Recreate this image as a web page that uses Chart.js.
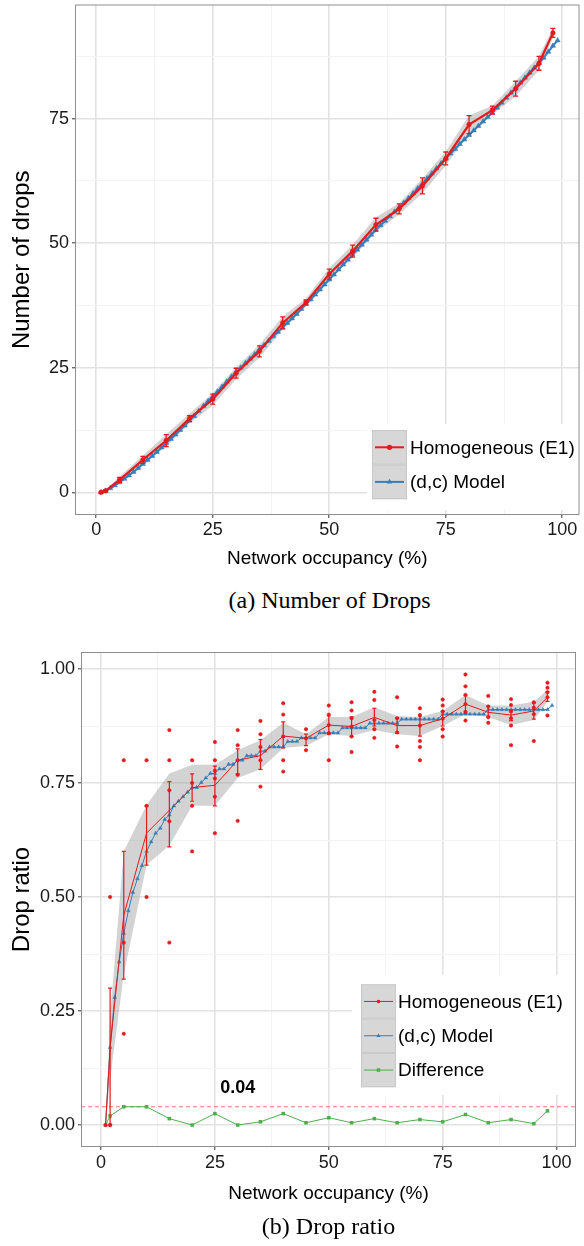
<!DOCTYPE html>
<html>
<head>
<meta charset="utf-8">
<script src="https://cdn.jsdelivr.net/npm/chart.js@4.4.1/dist/chart.umd.min.js"></script>
<style>
  html, body { margin: 0; padding: 0; background: #fff; }
  #page { position: relative; width: 584px; height: 1246px; overflow: hidden; }
  canvas { position: absolute; left: 0; }
  .caption { position: absolute; text-align: center; font-family: "Liberation Serif", "Times New Roman", serif; font-size: 24px; line-height: 28px; color: #000; }
</style>
</head>
<body>
<div id="page">
  <canvas id="drops" width="584" height="575" style="top:0px"></canvas>
  <div class="caption" style="left:75px;width:509px;top:586px">(a) Number of Drops</div>
  <canvas id="ratio" width="584" height="580" style="top:640px"></canvas>
  <div class="caption" style="left:81px;width:495px;top:1212px">(b) Drop ratio</div>
</div>
<script>
// ---- data: experiment (Homogeneous E1), measured at these occupancies ----
const OCC_E1 = [1, 2, 5, 10, 15, 20, 25, 30, 35, 40, 45, 50, 55, 60, 65, 70, 75, 80, 85, 90, 95, 98];

// (a) number of drops
const DROPS_E1 = [0, 0.3, 2.5, 6.5, 10.4, 14.8, 18.7, 23.9, 28.3, 34.0, 38.1, 43.8, 48.4, 53.7, 56.9, 61.5, 67.0, 73.8, 76.7, 81.0, 86.1, 92.2];
const DROPS_ERR_LOW = [-0.1, 0.1, 2.0, 5.8, 9.2, 14.2, 17.7, 22.9, 27.2, 32.8, 37.6, 42.8, 47.2, 52.4, 55.9, 59.9, 65.7, 72.0, 75.9, 79.5, 84.7, 91.3];
const DROPS_ERR_HIGH = [0.1, 0.5, 3.0, 7.2, 11.6, 15.4, 19.7, 24.9, 29.4, 35.2, 38.6, 44.8, 49.6, 55.0, 57.9, 63.1, 68.3, 75.6, 77.5, 82.5, 87.5, 93.1];
const DROPS_RIB_LOW = [-0.3, 0, 1.8, 5.6, 9.2, 13.8, 17.5, 22.7, 27.0, 32.7, 37.3, 42.6, 47.1, 52.2, 55.8, 60.0, 65.6, 72.0, 75.8, 79.5, 84.7, 91.2];
const DROPS_RIB_HIGH = [0.3, 0.6, 3.2, 7.4, 11.6, 15.8, 19.9, 25.1, 29.6, 35.3, 38.9, 45.0, 49.7, 55.2, 58.0, 63.0, 68.4, 75.6, 77.6, 82.5, 87.5, 93.2];

// (d,c) model, occupancy 1..99
const OCC_MODEL = Array.from({ length: 99 }, (_, i) => i + 1);
const DROPS_MODEL = [
  0, 0.3, 0.8, 1.4, 2.0, 2.7, 3.4, 4.1, 4.9, 5.7,
  6.5, 7.3, 8.1, 9.0, 9.9, 10.7, 11.6, 12.5, 13.4, 14.4,
  15.3, 16.3, 17.3, 18.3, 19.3, 20.2, 21.2, 22.2, 23.2, 24.1,
  25.0, 25.9, 26.8, 27.7, 28.6, 29.5, 30.4, 31.3, 32.2, 33.1,
  34.0, 34.9, 35.8, 36.8, 37.8, 38.7, 39.7, 40.7, 41.7, 42.7,
  43.7, 44.7, 45.7, 46.7, 47.7, 48.7, 49.7, 50.7, 51.7, 52.7,
  53.6, 54.5, 55.4, 56.3, 57.2, 58.1, 59.0, 60.0, 61.0, 62.0,
  63.0, 64.0, 65.0, 66.0, 67.0, 68.0, 68.9, 69.9, 70.8, 71.7,
  72.6, 73.5, 74.4, 75.3, 76.2, 77.2, 78.2, 79.2, 80.2, 81.2,
  82.2, 83.2, 84.2, 85.2, 86.1, 87.2, 88.4, 89.6, 90.7
];

// (b) drop ratio
const RATIO_E1 = [0, 0.17, 0.46, 0.64, 0.69, 0.74, 0.745, 0.80, 0.81, 0.853, 0.848, 0.877, 0.874, 0.894, 0.876, 0.876, 0.891, 0.923, 0.905, 0.899, 0.908, 0.938];
const RATIO_ERR_LOW = [0, 0, 0.32, 0.57, 0.61, 0.71, 0.70, 0.77, 0.78, 0.827, 0.832, 0.857, 0.852, 0.875, 0.859, 0.853, 0.875, 0.903, 0.897, 0.887, 0.890, 0.929];
const RATIO_ERR_HIGH = [0, 0.30, 0.60, 0.70, 0.753, 0.77, 0.787, 0.825, 0.845, 0.884, 0.857, 0.897, 0.895, 0.914, 0.893, 0.897, 0.907, 0.943, 0.918, 0.910, 0.925, 0.950];
const RATIO_RIB_LOW = [0, 0.10, 0.33, 0.57, 0.613, 0.70, 0.70, 0.761, 0.78, 0.827, 0.831, 0.857, 0.853, 0.866, 0.857, 0.853, 0.875, 0.901, 0.895, 0.877, 0.888, 0.928];
const RATIO_RIB_HIGH = [0, 0.24, 0.60, 0.702, 0.771, 0.79, 0.79, 0.822, 0.844, 0.882, 0.857, 0.895, 0.895, 0.916, 0.897, 0.895, 0.908, 0.943, 0.92, 0.92, 0.928, 0.954];
// single runs at each occupancy
const RATIO_RUNS = [
  [0],
  [0.5, 0, 0],
  [0.80, 0.40, 0.20],
  [0.80, 0.70, 0.50],
  [0.866, 0.80, 0.734, 0.666, 0.40],
  [0.80, 0.75, 0.70, 0.60],
  [0.84, 0.80, 0.777, 0.76, 0.72, 0.64],
  [0.866, 0.833, 0.80, 0.768, 0.667],
  [0.886, 0.857, 0.829, 0.80, 0.742],
  [0.925, 0.90, 0.852, 0.80, 0.775],
  [0.868, 0.848, 0.822],
  [0.92, 0.90, 0.877, 0.859, 0.80],
  [0.927, 0.909, 0.892, 0.874, 0.852, 0.818],
  [0.95, 0.932, 0.888, 0.868, 0.849],
  [0.938, 0.892, 0.861, 0.83],
  [0.914, 0.899, 0.876, 0.842, 0.829, 0.80],
  [0.933, 0.92, 0.907, 0.891, 0.868, 0.852],
  [0.988, 0.962, 0.943, 0.923, 0.906, 0.887],
  [0.941, 0.918, 0.894, 0.882],
  [0.934, 0.921, 0.907, 0.892, 0.876, 0.833],
  [0.927, 0.915, 0.901, 0.842],
  [0.97, 0.959, 0.949, 0.938, 0.898]
];
const RATIO_MODEL = [
  0, 0.17, 0.28, 0.358, 0.42, 0.47, 0.51, 0.54, 0.569, 0.60,
  0.621, 0.64, 0.651, 0.67, 0.68, 0.70, 0.71, 0.72, 0.73, 0.74,
  0.74, 0.751, 0.761, 0.771, 0.771, 0.781, 0.781, 0.791, 0.791, 0.80,
  0.80, 0.81, 0.81, 0.81, 0.82, 0.82, 0.829, 0.829, 0.829, 0.829,
  0.841, 0.841, 0.841, 0.849, 0.849, 0.849, 0.849, 0.86, 0.86, 0.86,
  0.86, 0.86, 0.871, 0.871, 0.871, 0.871, 0.871, 0.871, 0.881, 0.881,
  0.881, 0.881, 0.881, 0.881, 0.881, 0.89, 0.89, 0.89, 0.89, 0.89,
  0.89, 0.89, 0.89, 0.89, 0.901, 0.901, 0.901, 0.901, 0.901, 0.901,
  0.901, 0.901, 0.901, 0.901, 0.911, 0.911, 0.911, 0.911, 0.911, 0.911,
  0.911, 0.911, 0.911, 0.911, 0.911, 0.911, 0.911, 0.911, 0.92
];
const RATIO_DIFF = [0, 0.02, 0.04, 0.04, 0.014, 0, 0.025, 0, 0.007, 0.025, 0.005, 0.016, 0.005, 0.014, 0.005, 0.012, 0.007, 0.023, 0.005, 0.012, 0.003, 0.031];
const THRESHOLD = 0.04;

// ---- axis ticks (major + minor grid) ----
const OCC_TICKS = [0, 12.5, 25, 37.5, 50, 62.5, 75, 87.5, 100];
const DROPS_TICKS = [0, 12.5, 25, 37.5, 50, 62.5, 75, 87.5];
const RATIO_TICKS = [0, 0.125, 0.25, 0.375, 0.5, 0.625, 0.75, 0.875, 1];

const FONT = '"Liberation Sans", Arial, Helvetica, sans-serif';
const RED = '#E41A1C', BLUE = '#377EB8', GREEN = '#4DAF4A';
const RIBBON = 'rgba(150,150,150,0.42)';

Chart.defaults.font.family = FONT;
Chart.defaults.color = '#1a1a1a';

function pts(xs, ys) { return xs.map((x, i) => ({ x: x, y: ys[i] })); }

function isMajor(v, step) { return Math.abs(v / step - Math.round(v / step)) < 1e-9; }

function gridOpts(step) {
  return {
    color: c => isMajor(c.tick.value, step) ? '#E2E2E2' : '#F3F3F3',
    lineWidth: c => isMajor(c.tick.value, step) ? 1.6 : 1,
    tickColor: c => isMajor(c.tick.value, step) ? '#333' : 'rgba(0,0,0,0)',
    tickWidth: 1,
    tickLength: 3
  };
}

// no extra room for edge labels: the panel is placed by layout padding
function noEdgePadding(s) {
  s.paddingTop = 0; s.paddingBottom = 0; s.paddingLeft = 0; s.paddingRight = 0;
}

// error bars, threshold, label, legend and panel border
const panelPlugin = {
  id: 'panel',
  beforeDatasetsDraw(chart, args, o) {
    if (o.threshold == null) return;
    const ctx = chart.ctx, a = chart.chartArea;
    const py = chart.scales.y.getPixelForValue(o.threshold);
    ctx.save();
    ctx.strokeStyle = 'rgba(228,26,28,0.6)';
    ctx.lineWidth = 1;
    ctx.setLineDash([4, 3]);
    ctx.beginPath(); ctx.moveTo(a.left, py); ctx.lineTo(a.right, py); ctx.stroke();
    ctx.restore();
  },
  afterDatasetsDraw(chart, args, o) {
    const ctx = chart.ctx, a = chart.chartArea;
    const xs = chart.scales.x, ys = chart.scales.y;
    ctx.save();
    ctx.beginPath(); ctx.rect(a.left, a.top, a.right - a.left, a.bottom - a.top); ctx.clip();
    if (o.err) {
      ctx.strokeStyle = RED;
      ctx.lineWidth = o.err.width;
      o.err.x.forEach((x, i) => {
        const px = xs.getPixelForValue(x);
        const lo = ys.getPixelForValue(o.err.low[i]);
        const hi = ys.getPixelForValue(o.err.high[i]);
        if (Math.abs(lo - hi) < 1) return;
        const c = o.err.cap;
        ctx.beginPath();
        ctx.moveTo(px, lo); ctx.lineTo(px, hi);
        ctx.moveTo(px - c, lo); ctx.lineTo(px + c, lo);
        ctx.moveTo(px - c, hi); ctx.lineTo(px + c, hi);
        ctx.stroke();
      });
    }
    if (o.note) {
      ctx.fillStyle = '#000';
      ctx.font = 'bold 18px ' + FONT;
      ctx.textAlign = 'center';
      ctx.textBaseline = 'middle';
      ctx.fillText(o.note.text, xs.getPixelForValue(o.note.x), ys.getPixelForValue(o.note.y));
    }
    ctx.restore();

    const lg = o.legend;
    if (lg) {
      ctx.save();
      ctx.fillStyle = '#fff';
      ctx.fillRect(lg.left, lg.top, lg.width, lg.height);
      lg.items.forEach((it, i) => {
        const ky = lg.keyTop + i * lg.keySize;
        const cy = ky + lg.keySize / 2;
        ctx.fillStyle = '#D7D7D7';
        ctx.fillRect(lg.keyLeft, ky, lg.keyWidth, lg.keySize);
        ctx.strokeStyle = '#C8C8C8';
        ctx.lineWidth = 1;
        ctx.strokeRect(lg.keyLeft + 0.5, ky + 0.5, lg.keyWidth - 1, lg.keySize - 1);
        ctx.strokeStyle = it.color;
        ctx.lineWidth = it.lineWidth;
        ctx.beginPath();
        ctx.moveTo(lg.keyLeft + 3, cy); ctx.lineTo(lg.keyLeft + lg.keyWidth - 3, cy);
        ctx.stroke();
        ctx.fillStyle = it.color;
        Chart.helpers.drawPoint(ctx, { pointStyle: it.pointStyle, radius: it.radius, borderWidth: 0, rotation: 0 }, lg.keyLeft + lg.keyWidth / 2, cy);
        ctx.fillStyle = '#000';
        ctx.font = lg.font;
        ctx.textAlign = 'left';
        ctx.textBaseline = 'middle';
        ctx.fillText(it.label, lg.textLeft, cy + 1);
      });
      ctx.restore();
    }
  },
  afterDraw(chart) {
    const ctx = chart.ctx, a = chart.chartArea;
    ctx.save();
    ctx.strokeStyle = '#8f8f8f';
    ctx.lineWidth = 1;
    ctx.strokeRect(a.left + 0.5, a.top + 0.5, a.right - a.left - 1, a.bottom - a.top - 1);
    ctx.restore();
  }
};

function axes(cfg) {
  return {
    x: {
      type: 'linear', min: cfg.xMin, max: cfg.xMax,
      afterBuildTicks: s => { s.ticks = OCC_TICKS.map(v => ({ value: v })); },
      afterFit: s => { s.height = cfg.xHeight; noEdgePadding(s); },
      grid: gridOpts(25),
      border: { display: false },
      ticks: {
        autoSkip: false, maxRotation: 0, padding: cfg.xTickPad,
        font: { size: 18 }, color: '#1a1a1a',
        callback: v => isMajor(v, 25) ? String(v) : ''
      },
      title: { display: true, text: 'Network occupancy (%)', font: { size: 19 }, color: '#000', padding: { top: 0, bottom: cfg.xTitlePad } }
    },
    y: {
      type: 'linear', min: cfg.yMin, max: cfg.yMax,
      afterBuildTicks: s => { s.ticks = cfg.yTicks.map(v => ({ value: v })); },
      afterFit: s => { s.width = cfg.yWidth; noEdgePadding(s); },
      grid: gridOpts(cfg.yStep),
      border: { display: false },
      ticks: {
        autoSkip: false, padding: 3,
        font: { size: 18 }, color: '#1a1a1a',
        callback: cfg.yLabel
      },
      title: { display: true, text: cfg.yTitle, font: { size: 24 }, color: '#000', padding: { top: cfg.yTitlePad, bottom: 0 } }
    }
  };
}

// ---------- (a) Number of drops ----------
new Chart(document.getElementById('drops'), {
  type: 'line',
  data: {
    datasets: [
      { label: 'ribbon-low', data: pts(OCC_E1, DROPS_RIB_LOW), borderWidth: 0, pointRadius: 0, fill: false, order: 5 },
      { label: 'ribbon-high', data: pts(OCC_E1, DROPS_RIB_HIGH), borderWidth: 0, pointRadius: 0, fill: '-1', backgroundColor: RIBBON, order: 4 },
      { label: '(d,c) Model', data: pts(OCC_MODEL, DROPS_MODEL), borderColor: BLUE, backgroundColor: BLUE, borderWidth: 2,
        pointStyle: 'triangle', pointRadius: 3, pointBorderWidth: 0.5, pointBorderColor: BLUE, pointBackgroundColor: BLUE, order: 2 },
      { label: 'Homogeneous (E1)', data: pts(OCC_E1, DROPS_E1), borderColor: RED, backgroundColor: RED, borderWidth: 2.2,
        pointStyle: 'circle', pointRadius: 2.3, pointBorderWidth: 0.5, pointBorderColor: RED, pointBackgroundColor: RED, order: 1 }
    ]
  },
  options: {
    responsive: false, animation: false, events: [],
    layout: { padding: { left: 0, right: 0, top: 4, bottom: 0 } },
    elements: { line: { tension: 0 } },
    scales: axes({
      xMin: -4.57, xMax: 103.7, xHeight: 60, xTickPad: 1, xTitlePad: 4.6,
      yMin: -4.55, yMax: 97.9, yTicks: DROPS_TICKS, yStep: 25, yWidth: 75, yTitlePad: 8,
      yTitle: 'Number of drops', yLabel: v => isMajor(v, 25) ? String(v) : ''
    }),
    plugins: {
      legend: { display: false }, tooltip: { enabled: false },
      panel: {
        err: { x: OCC_E1, low: DROPS_ERR_LOW, high: DROPS_ERR_HIGH, width: 1.3, cap: 2.5 },
        legend: {
          left: 367, top: 424, width: 217, height: 86,
          keyLeft: 372, keyTop: 430, keyWidth: 35, keySize: 34.6, textLeft: 410,
          font: '19px ' + FONT,
          items: [
            { label: 'Homogeneous (E1)', color: RED, lineWidth: 2, pointStyle: 'circle', radius: 2.6 },
            { label: '(d,c) Model', color: BLUE, lineWidth: 2, pointStyle: 'triangle', radius: 3.2 }
          ]
        }
      }
    }
  },
  plugins: [panelPlugin]
});

// ---------- (b) Drop ratio ----------
const runPoints = [];
RATIO_RUNS.forEach((runs, i) => runs.forEach(v => runPoints.push({ x: OCC_E1[i], y: v })));

new Chart(document.getElementById('ratio'), {
  type: 'line',
  data: {
    datasets: [
      { label: 'ribbon-low', data: pts(OCC_E1, RATIO_RIB_LOW), borderWidth: 0, pointRadius: 0, fill: false, order: 6 },
      { label: 'ribbon-high', data: pts(OCC_E1, RATIO_RIB_HIGH), borderWidth: 0, pointRadius: 0, fill: '-1', backgroundColor: RIBBON, order: 5 },
      { label: '(d,c) Model', data: pts(OCC_MODEL, RATIO_MODEL), borderColor: BLUE, backgroundColor: BLUE, borderWidth: 1,
        pointStyle: 'triangle', pointRadius: 2.2, pointBorderWidth: 0.4, pointBorderColor: BLUE, pointBackgroundColor: BLUE, order: 3 },
      { label: 'Homogeneous (E1)', data: pts(OCC_E1, RATIO_E1), borderColor: RED, borderWidth: 1, pointRadius: 0, order: 2 },
      { label: 'runs', data: runPoints, showLine: false, pointStyle: 'circle', pointRadius: 1.7, pointBorderWidth: 0.6,
        pointBorderColor: RED, pointBackgroundColor: RED, order: 0 },
      { label: 'Difference', data: pts(OCC_E1, RATIO_DIFF), borderColor: GREEN, backgroundColor: GREEN, borderWidth: 1,
        pointStyle: 'rect', pointRadius: 2.5, pointBorderWidth: 0, pointBackgroundColor: GREEN, order: 1 }
    ]
  },
  options: {
    responsive: false, animation: false, events: [],
    layout: { padding: { left: 0, right: 8, top: 12, bottom: 0 } },
    elements: { line: { tension: 0 } },
    scales: axes({
      xMin: -4.39, xMax: 104.26, xHeight: 73, xTickPad: 2, xTitlePad: 14.6,
      yMin: -0.0482, yMax: 1.0373, yTicks: RATIO_TICKS, yStep: 0.25, yWidth: 81, yTitlePad: 8,
      yTitle: 'Drop ratio', yLabel: v => isMajor(v, 0.25) ? v.toFixed(2) : ''
    }),
    plugins: {
      legend: { display: false }, tooltip: { enabled: false },
      panel: {
        threshold: THRESHOLD,
        note: { text: THRESHOLD.toFixed(2), x: 30, y: 0.081 },
        err: { x: OCC_E1, low: RATIO_ERR_LOW, high: RATIO_ERR_HIGH, width: 1.2, cap: 2 },
        legend: {
          left: 352, top: 335, width: 223, height: 120,
          keyLeft: 361, keyTop: 344.3, keyWidth: 35, keySize: 34.3, textLeft: 398,
          font: '19px ' + FONT,
          items: [
            { label: 'Homogeneous (E1)', color: RED, lineWidth: 1, pointStyle: 'circle', radius: 1.8 },
            { label: '(d,c) Model', color: BLUE, lineWidth: 1, pointStyle: 'triangle', radius: 2.3 },
            { label: 'Difference', color: GREEN, lineWidth: 1, pointStyle: 'rect', radius: 2.5 }
          ]
        }
      }
    }
  },
  plugins: [panelPlugin]
});
</script>
</body>
</html>
